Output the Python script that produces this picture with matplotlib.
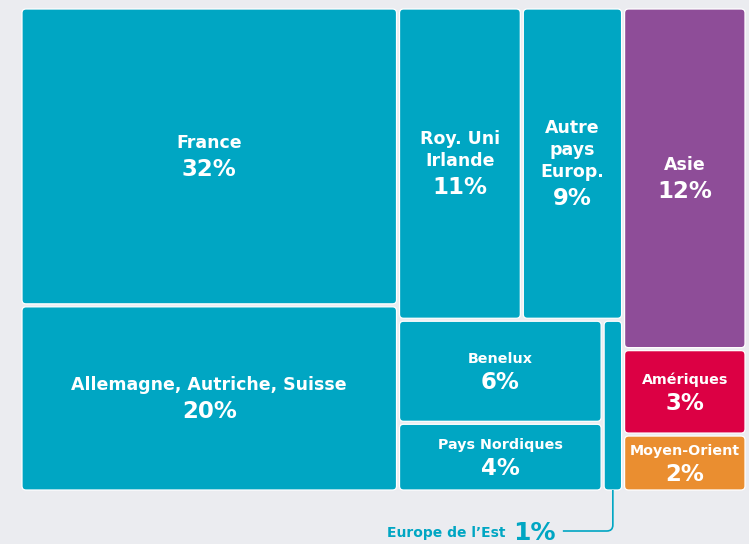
import matplotlib
matplotlib.use("Agg")
import matplotlib.pyplot as plt
from matplotlib.patches import FancyBboxPatch, PathPatch
from matplotlib.path import Path

# ---------------- data ----------------
labels = ["France", "Allemagne, Autriche, Suisse", "Roy. Uni\nIrlande",
          "Autre\npays\nEurop.", "Benelux", "Pays Nordiques", "Europe de l\u2019Est",
          "Asie", "Amériques", "Moyen-Orient"]
values = [32, 20, 11, 9, 6, 4, 1, 12, 3, 2]
pct_labels = ["32%", "20%", "11%", "9%", "6%", "4%", "1%", "12%", "3%", "2%"]
# hierarchy (indices into the lists above), slice-and-dice alternating x / y
tree = [[0, 1], [[2, 3], [[4, 5], 6]], [7, 8, 9]]
outside = [6]  # labelled with a callout below the chart

TEAL = "#00a6c3"
colors = [TEAL, TEAL, TEAL, TEAL, TEAL, TEAL, TEAL, "#8e4d98", "#dc0044", "#ea8e30"]
BG = "#ebecf0"

# ---------------- layout ----------------
def total(node):
    if isinstance(node, list):
        return sum(total(n) for n in node)
    return values[node]

rects = {}
def layout(node, x, y, w, h, depth):
    if not isinstance(node, list):
        rects[node] = (x, y, w, h)
        return
    s = total(node)
    pos = 0.0
    for child in node:
        f = total(child) / s
        if depth % 2 == 0:
            layout(child, x + pos * w, y, f * w, h, depth + 1)
        else:
            layout(child, x, y + pos * h, w, f * h, depth + 1)
        pos += f

W, H = 749, 544
X0, Y0, X1, Y1 = 20.5, 7.5, 746.5, 491.5   # top-left origin (pixels)
layout(tree, X0, Y0, X1 - X0, Y1 - Y0, 0)

fig = plt.figure(figsize=(W / 100, H / 100), dpi=100, facecolor=BG)
ax = fig.add_axes([0, 0, 1, 1])
ax.set_xlim(0, W)
ax.set_ylim(0, H)
ax.axis("off")
ax.set_facecolor(BG)

def Y(v):  # top-origin pixel -> axes y
    return H - v

inset = 1.5
for i in range(len(values)):
    x, y, w, h = rects[i]
    p = FancyBboxPatch((x + inset, Y(y + h - inset)), w - 2 * inset, h - 2 * inset,
                       boxstyle="round,pad=0,rounding_size=4",
                       facecolor=colors[i], edgecolor="white", linewidth=0.9)
    ax.add_patch(p)

FONT = "DejaVu Sans"
for i in range(len(values)):
    if i in outside:
        continue
    x, y, w, h = rects[i]
    cx, cy = x + w / 2, y + h / 2 - 2
    small = h < 130
    lab_size = 10.3 if small else 12.5
    lab_cap = 11 if small else 13
    line_sp = 22
    pct_gap = 23 if small else 26
    lines = labels[i].split("\n")
    n = len(lines)
    span = (n - 1) * line_sp + pct_gap
    top = cy - span / 2
    for k, ln in enumerate(lines):
        yy = top + k * line_sp
        ax.text(cx, Y(yy + lab_cap / 2), ln, ha="center", va="baseline",
                color="white", fontsize=lab_size, fontweight="bold", family=FONT)
    yp = top + (n - 1) * line_sp + pct_gap
    ax.text(cx, Y(yp + 8.5), pct_labels[i], ha="center", va="baseline",
            color="white", fontsize=16.5, fontweight="bold", family=FONT)

# callout for small box(es)
fig.canvas.draw()
r = fig.canvas.get_renderer()
for i in outside:
    x, y, w, h = rects[i]
    bx = x + w / 2
    by = y + h - inset
    ly = by + 41
    lx0 = bx - 50
    rad = 6
    verts = [(lx0, ly), (bx - rad, ly), (bx, ly), (bx, ly - rad), (bx, by)]
    codes = [Path.MOVETO, Path.LINETO, Path.CURVE3, Path.CURVE3, Path.LINETO]
    verts = [(vx, Y(vy)) for vx, vy in verts]
    ax.add_patch(PathPatch(Path(verts, codes), facecolor="none",
                           edgecolor=TEAL, linewidth=1.2))
    t = ax.text(lx0 - 7, Y(ly + 9), pct_labels[i], ha="right", va="baseline",
                color=TEAL, fontsize=18, fontweight="bold", family=FONT)
    bb = t.get_window_extent(r)
    ax.text(bb.x0 - 8, Y(ly + 6), labels[i], ha="right", va="baseline",
            color=TEAL, fontsize=10, fontweight="bold", family=FONT)

fig.savefig("out.png", dpi=100, facecolor=BG)
